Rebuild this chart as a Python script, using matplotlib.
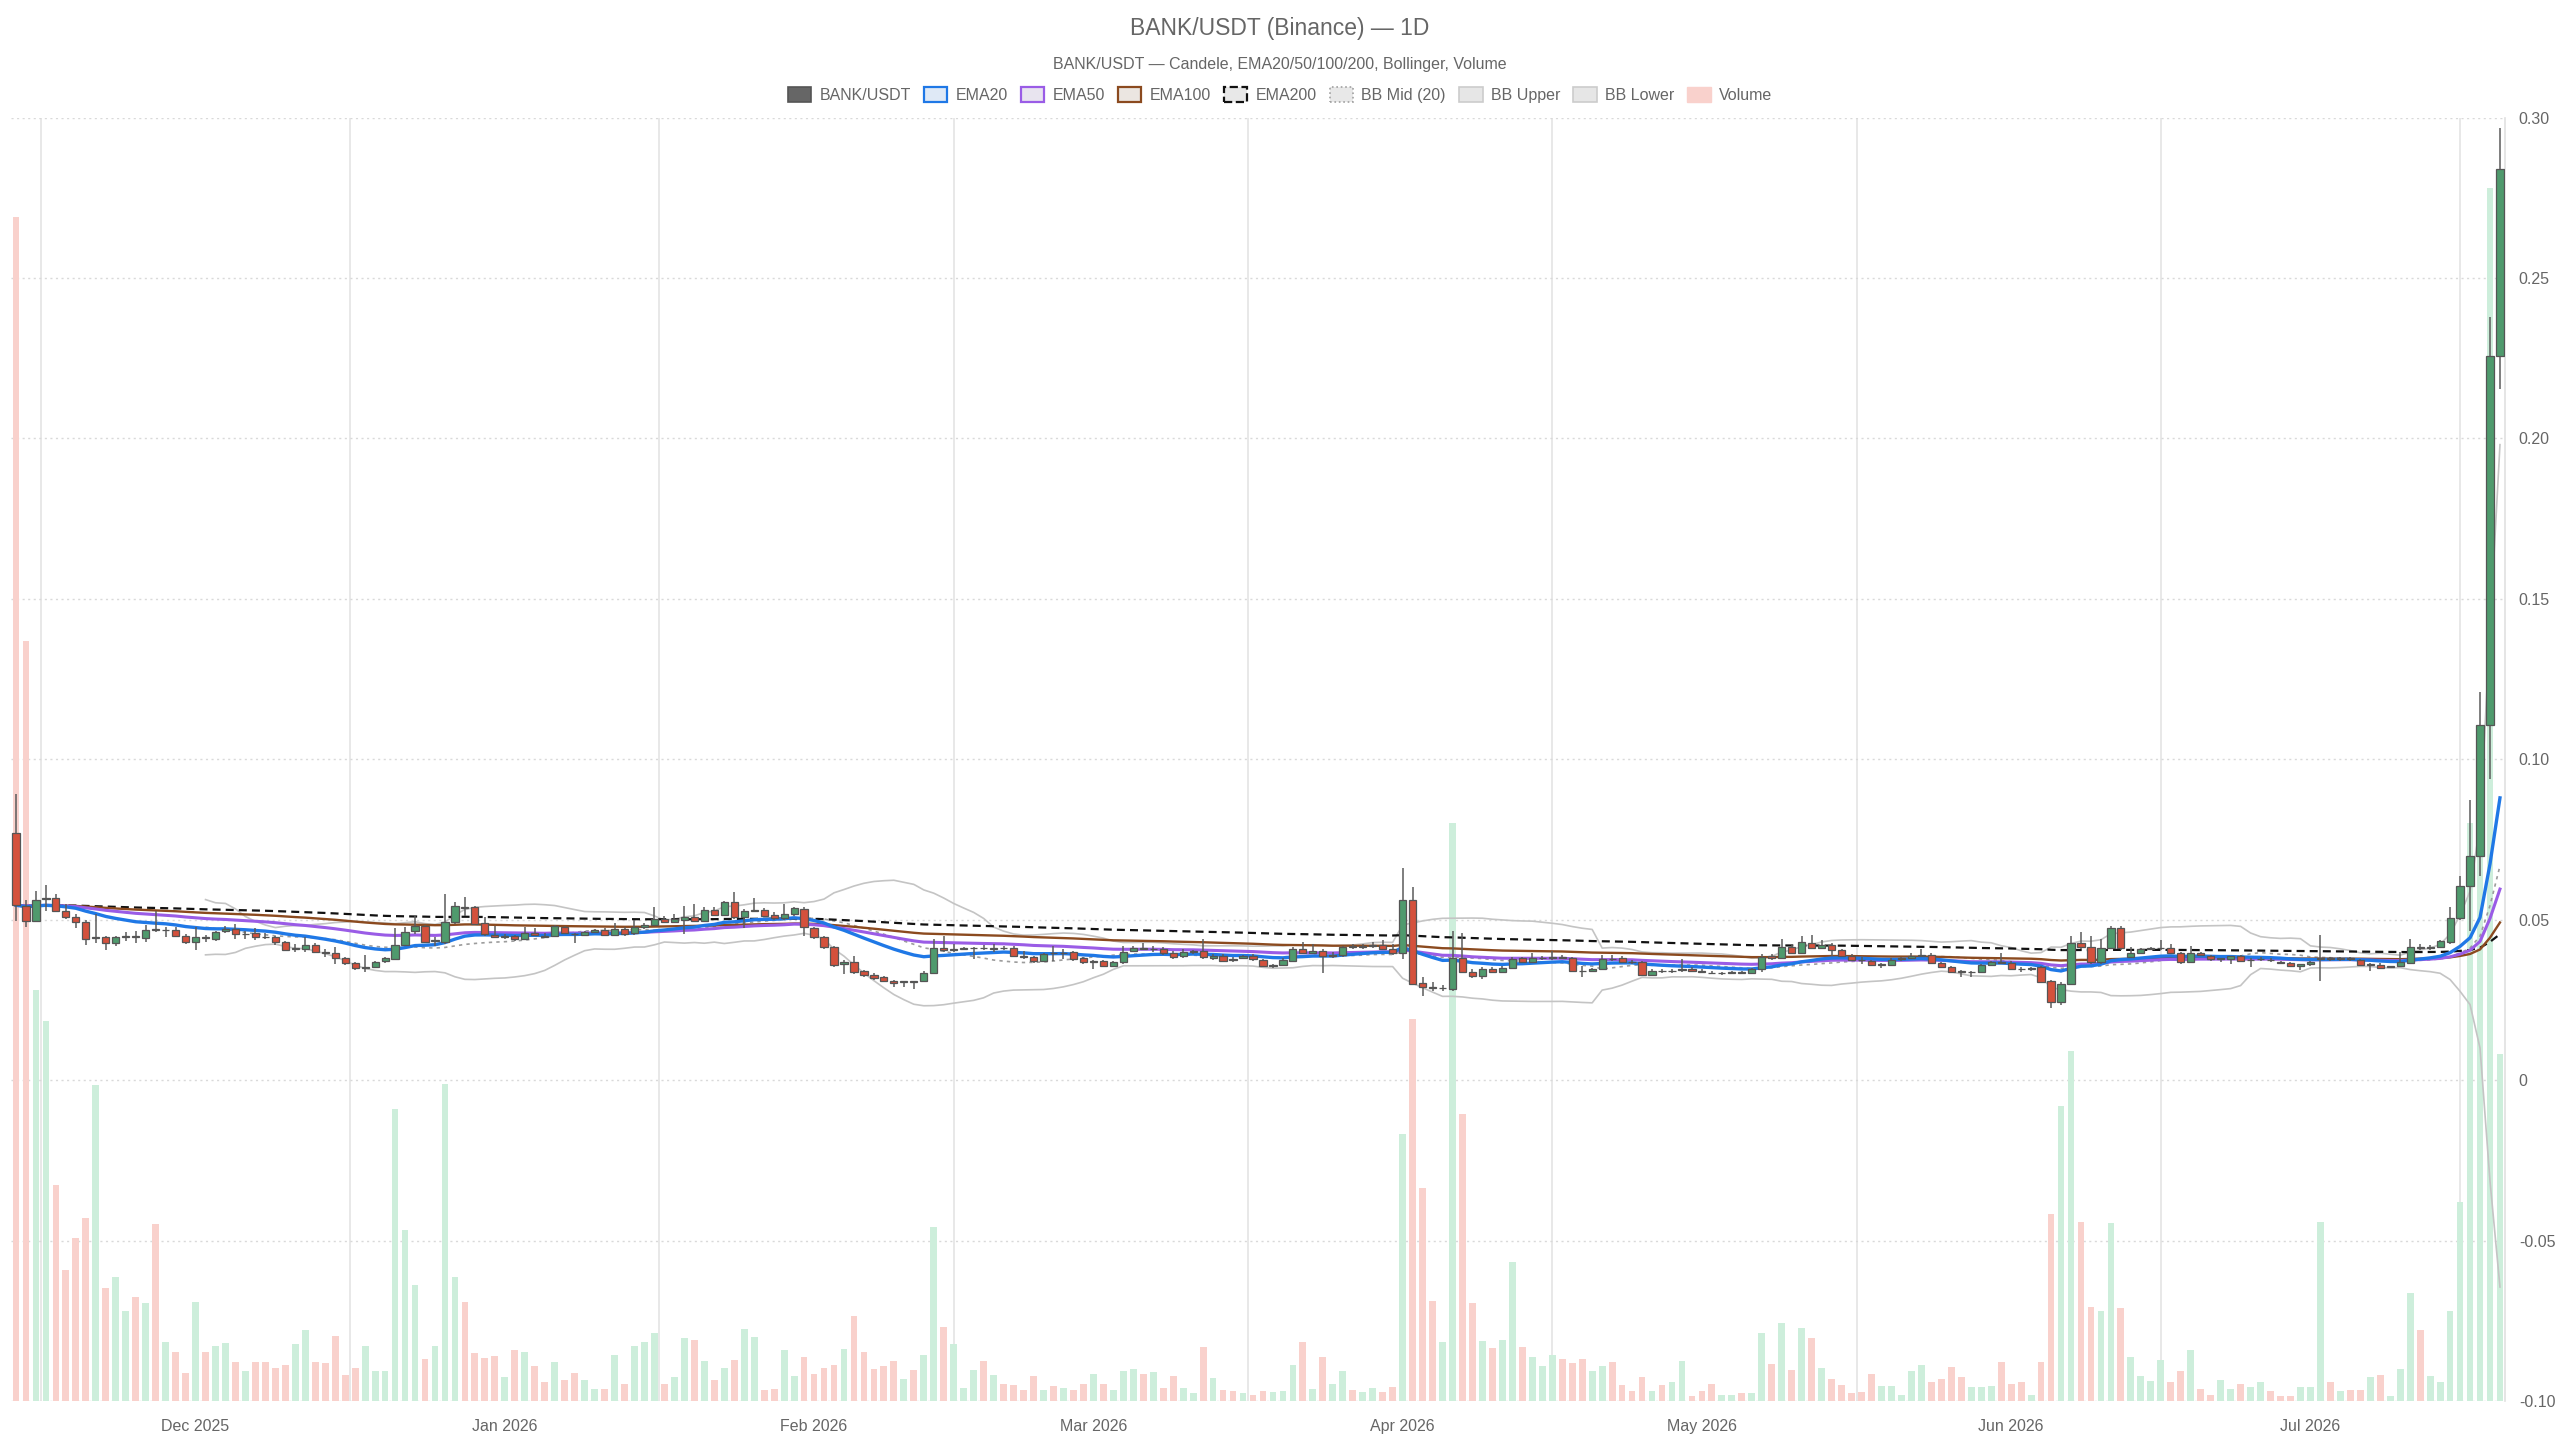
import numpy as np
import pandas as pd
import matplotlib
matplotlib.use("Agg")
import matplotlib.pyplot as plt
import matplotlib.dates as mdates
from matplotlib.patches import Patch
from matplotlib.ticker import FixedLocator, FuncFormatter

plt.rcParams['font.family'] = ['Liberation Sans', 'DejaVu Sans']

# daily candles BANK/USDT, first day 2025-11-13
start_date = '2025-11-13'

opens = [
    0.0770, 0.0544, 0.0497, 0.0563, 0.0568, 0.0526, 0.0507, 0.0494, 0.0443, 0.0445,
    0.0427, 0.0446, 0.0448, 0.0442, 0.0470, 0.0467, 0.0468, 0.0450, 0.0431, 0.0446,
    0.0440, 0.0466, 0.0471, 0.0454, 0.0457, 0.0447, 0.0445, 0.0429, 0.0409, 0.0409,
    0.0422, 0.0398, 0.0395, 0.0380, 0.0364, 0.0350, 0.0354, 0.0370, 0.0377, 0.0422,
    0.0464, 0.0479, 0.0433, 0.0429, 0.0492, 0.0540, 0.0538, 0.0490, 0.0453, 0.0447,
    0.0448, 0.0440, 0.0457, 0.0449, 0.0448, 0.0476, 0.0456, 0.0452, 0.0461, 0.0468,
    0.0452, 0.0471, 0.0457, 0.0478, 0.0484, 0.0502, 0.0494, 0.0500, 0.0509, 0.0497,
    0.0531, 0.0516, 0.0554, 0.0507, 0.0528, 0.0530, 0.0515, 0.0504, 0.0518, 0.0533,
    0.0474, 0.0445, 0.0414, 0.0362, 0.0369, 0.0339, 0.0329, 0.0320, 0.0310, 0.0305,
    0.0309, 0.0308, 0.0334, 0.0411, 0.0404, 0.0410, 0.0411, 0.0413, 0.0410, 0.0413,
    0.0411, 0.0388, 0.0383, 0.0370, 0.0396, 0.0395, 0.0398, 0.0380, 0.0369, 0.0370,
    0.0357, 0.0367, 0.0403, 0.0413, 0.0408, 0.0409, 0.0396, 0.0386, 0.0399, 0.0403,
    0.0381, 0.0388, 0.0377, 0.0380, 0.0388, 0.0374, 0.0356, 0.0359, 0.0372, 0.0409,
    0.0396, 0.0403, 0.0386, 0.0389, 0.0418, 0.0416, 0.0418, 0.0421, 0.0409, 0.0396,
    0.0562, 0.0302, 0.0290, 0.0286, 0.0284, 0.0381, 0.0338, 0.0324, 0.0346, 0.0338,
    0.0350, 0.0380, 0.0369, 0.0380, 0.0382, 0.0385, 0.0379, 0.0341, 0.0341, 0.0346,
    0.0378, 0.0381, 0.0369, 0.0367, 0.0329, 0.0340, 0.0339, 0.0342, 0.0346, 0.0341,
    0.0334, 0.0333, 0.0334, 0.0337, 0.0334, 0.0346, 0.0386, 0.0380, 0.0416, 0.0396,
    0.0426, 0.0412, 0.0422, 0.0406, 0.0388, 0.0375, 0.0370, 0.0359, 0.0360, 0.0377,
    0.0380, 0.0388, 0.0390, 0.0364, 0.0352, 0.0339, 0.0336, 0.0336, 0.0359, 0.0367,
    0.0364, 0.0347, 0.0345, 0.0351, 0.0308, 0.0243, 0.0300, 0.0426, 0.0416, 0.0367,
    0.0411, 0.0474, 0.0383, 0.0396, 0.0409, 0.0411, 0.0411, 0.0396, 0.0367, 0.0395,
    0.0388, 0.0377, 0.0378, 0.0386, 0.0374, 0.0377, 0.0375, 0.0368, 0.0365, 0.0355,
    0.0362, 0.0377, 0.0379, 0.0377, 0.0379, 0.0374, 0.0360, 0.0360, 0.0352, 0.0357,
    0.0365, 0.0414, 0.0411, 0.0415, 0.0430, 0.0505, 0.0604, 0.0697, 0.1106, 0.2257,
]

highs = [
    0.0893, 0.0560, 0.0588, 0.0609, 0.0580, 0.0549, 0.0518, 0.0500, 0.0518, 0.0450,
    0.0450, 0.0461, 0.0466, 0.0483, 0.0526, 0.0478, 0.0476, 0.0455, 0.0476, 0.0453,
    0.0466, 0.0479, 0.0487, 0.0464, 0.0473, 0.0458, 0.0450, 0.0433, 0.0424, 0.0445,
    0.0427, 0.0409, 0.0414, 0.0385, 0.0369, 0.0390, 0.0372, 0.0385, 0.0474, 0.0476,
    0.0512, 0.0483, 0.0447, 0.0580, 0.0554, 0.0571, 0.0544, 0.0507, 0.0479, 0.0455,
    0.0452, 0.0476, 0.0473, 0.0458, 0.0484, 0.0481, 0.0460, 0.0466, 0.0471, 0.0474,
    0.0490, 0.0476, 0.0500, 0.0490, 0.0538, 0.0512, 0.0518, 0.0544, 0.0549, 0.0538,
    0.0538, 0.0559, 0.0587, 0.0533, 0.0566, 0.0535, 0.0523, 0.0549, 0.0540, 0.0538,
    0.0478, 0.0450, 0.0419, 0.0374, 0.0388, 0.0344, 0.0334, 0.0324, 0.0313, 0.0310,
    0.0310, 0.0340, 0.0440, 0.0448, 0.0424, 0.0416, 0.0416, 0.0420, 0.0424, 0.0418,
    0.0419, 0.0403, 0.0388, 0.0396, 0.0419, 0.0409, 0.0403, 0.0385, 0.0374, 0.0374,
    0.0370, 0.0419, 0.0419, 0.0427, 0.0419, 0.0414, 0.0403, 0.0409, 0.0406, 0.0440,
    0.0393, 0.0393, 0.0385, 0.0391, 0.0392, 0.0378, 0.0362, 0.0380, 0.0414, 0.0431,
    0.0424, 0.0409, 0.0398, 0.0419, 0.0424, 0.0424, 0.0430, 0.0436, 0.0424, 0.0660,
    0.0601, 0.0322, 0.0305, 0.0295, 0.0466, 0.0459, 0.0346, 0.0352, 0.0352, 0.0355,
    0.0385, 0.0385, 0.0395, 0.0388, 0.0403, 0.0390, 0.0385, 0.0357, 0.0350, 0.0390,
    0.0391, 0.0386, 0.0374, 0.0372, 0.0346, 0.0345, 0.0345, 0.0378, 0.0352, 0.0346,
    0.0340, 0.0338, 0.0340, 0.0341, 0.0350, 0.0393, 0.0392, 0.0440, 0.0424, 0.0450,
    0.0452, 0.0437, 0.0426, 0.0409, 0.0392, 0.0385, 0.0374, 0.0365, 0.0380, 0.0385,
    0.0395, 0.0409, 0.0395, 0.0368, 0.0356, 0.0343, 0.0340, 0.0362, 0.0372, 0.0395,
    0.0370, 0.0352, 0.0352, 0.0357, 0.0312, 0.0305, 0.0448, 0.0461, 0.0448, 0.0440,
    0.0480, 0.0479, 0.0414, 0.0412, 0.0414, 0.0438, 0.0424, 0.0400, 0.0419, 0.0400,
    0.0391, 0.0382, 0.0388, 0.0390, 0.0380, 0.0383, 0.0381, 0.0372, 0.0369, 0.0362,
    0.0372, 0.0451, 0.0384, 0.0383, 0.0383, 0.0378, 0.0364, 0.0364, 0.0357, 0.0398,
    0.0440, 0.0424, 0.0420, 0.0438, 0.0540, 0.0635, 0.0873, 0.1211, 0.2377, 0.2968,
]

lows = [
    0.0497, 0.0476, 0.0494, 0.0528, 0.0523, 0.0502, 0.0474, 0.0421, 0.0426, 0.0407,
    0.0419, 0.0435, 0.0426, 0.0431, 0.0461, 0.0445, 0.0445, 0.0424, 0.0407, 0.0429,
    0.0435, 0.0458, 0.0440, 0.0440, 0.0438, 0.0440, 0.0421, 0.0403, 0.0398, 0.0400,
    0.0396, 0.0383, 0.0362, 0.0360, 0.0344, 0.0338, 0.0350, 0.0365, 0.0374, 0.0419,
    0.0455, 0.0426, 0.0419, 0.0424, 0.0487, 0.0512, 0.0484, 0.0450, 0.0445, 0.0440,
    0.0435, 0.0436, 0.0450, 0.0442, 0.0445, 0.0455, 0.0426, 0.0448, 0.0457, 0.0448,
    0.0448, 0.0450, 0.0453, 0.0472, 0.0480, 0.0490, 0.0490, 0.0455, 0.0494, 0.0494,
    0.0512, 0.0512, 0.0502, 0.0474, 0.0523, 0.0507, 0.0500, 0.0500, 0.0512, 0.0450,
    0.0440, 0.0409, 0.0352, 0.0331, 0.0331, 0.0322, 0.0313, 0.0305, 0.0289, 0.0289,
    0.0284, 0.0305, 0.0331, 0.0400, 0.0398, 0.0405, 0.0377, 0.0405, 0.0398, 0.0405,
    0.0385, 0.0378, 0.0365, 0.0367, 0.0372, 0.0378, 0.0372, 0.0362, 0.0346, 0.0352,
    0.0352, 0.0362, 0.0398, 0.0405, 0.0398, 0.0390, 0.0378, 0.0381, 0.0393, 0.0378,
    0.0375, 0.0367, 0.0367, 0.0376, 0.0372, 0.0352, 0.0350, 0.0355, 0.0367, 0.0393,
    0.0393, 0.0334, 0.0380, 0.0385, 0.0409, 0.0409, 0.0412, 0.0405, 0.0390, 0.0378,
    0.0296, 0.0263, 0.0279, 0.0279, 0.0279, 0.0334, 0.0318, 0.0315, 0.0334, 0.0334,
    0.0346, 0.0365, 0.0365, 0.0375, 0.0374, 0.0376, 0.0336, 0.0322, 0.0336, 0.0344,
    0.0370, 0.0365, 0.0362, 0.0326, 0.0325, 0.0335, 0.0334, 0.0338, 0.0336, 0.0334,
    0.0330, 0.0329, 0.0330, 0.0330, 0.0331, 0.0338, 0.0374, 0.0378, 0.0393, 0.0393,
    0.0409, 0.0409, 0.0386, 0.0383, 0.0370, 0.0362, 0.0355, 0.0350, 0.0357, 0.0372,
    0.0376, 0.0384, 0.0361, 0.0348, 0.0333, 0.0322, 0.0320, 0.0333, 0.0355, 0.0362,
    0.0342, 0.0336, 0.0340, 0.0302, 0.0224, 0.0233, 0.0296, 0.0410, 0.0362, 0.0362,
    0.0409, 0.0405, 0.0380, 0.0392, 0.0405, 0.0406, 0.0393, 0.0362, 0.0364, 0.0386,
    0.0372, 0.0367, 0.0362, 0.0367, 0.0352, 0.0372, 0.0369, 0.0362, 0.0352, 0.0344,
    0.0357, 0.0309, 0.0370, 0.0372, 0.0372, 0.0355, 0.0339, 0.0346, 0.0348, 0.0354,
    0.0362, 0.0405, 0.0406, 0.0412, 0.0425, 0.0498, 0.0464, 0.0637, 0.0938, 0.2153,
]

closes = [
    0.0545, 0.0497, 0.0562, 0.0567, 0.0528, 0.0509, 0.0494, 0.0440, 0.0446, 0.0427,
    0.0445, 0.0448, 0.0446, 0.0469, 0.0468, 0.0469, 0.0450, 0.0431, 0.0445, 0.0444,
    0.0463, 0.0471, 0.0455, 0.0456, 0.0445, 0.0445, 0.0429, 0.0407, 0.0411, 0.0422,
    0.0398, 0.0395, 0.0381, 0.0364, 0.0348, 0.0352, 0.0369, 0.0381, 0.0422, 0.0463,
    0.0479, 0.0431, 0.0436, 0.0492, 0.0542, 0.0537, 0.0487, 0.0455, 0.0447, 0.0448,
    0.0440, 0.0457, 0.0452, 0.0447, 0.0479, 0.0458, 0.0454, 0.0461, 0.0468, 0.0452,
    0.0471, 0.0455, 0.0478, 0.0484, 0.0502, 0.0494, 0.0502, 0.0509, 0.0497, 0.0531,
    0.0516, 0.0554, 0.0507, 0.0528, 0.0531, 0.0512, 0.0504, 0.0518, 0.0535, 0.0476,
    0.0445, 0.0414, 0.0359, 0.0369, 0.0338, 0.0328, 0.0318, 0.0310, 0.0303, 0.0308,
    0.0307, 0.0334, 0.0411, 0.0404, 0.0410, 0.0412, 0.0413, 0.0411, 0.0413, 0.0411,
    0.0388, 0.0383, 0.0370, 0.0393, 0.0395, 0.0397, 0.0377, 0.0367, 0.0372, 0.0357,
    0.0367, 0.0400, 0.0411, 0.0408, 0.0410, 0.0396, 0.0383, 0.0400, 0.0401, 0.0383,
    0.0388, 0.0372, 0.0375, 0.0388, 0.0377, 0.0357, 0.0358, 0.0374, 0.0409, 0.0396,
    0.0403, 0.0386, 0.0389, 0.0416, 0.0416, 0.0418, 0.0420, 0.0409, 0.0396, 0.0562,
    0.0300, 0.0291, 0.0288, 0.0287, 0.0381, 0.0338, 0.0324, 0.0346, 0.0338, 0.0350,
    0.0377, 0.0369, 0.0380, 0.0381, 0.0385, 0.0380, 0.0341, 0.0340, 0.0346, 0.0378,
    0.0377, 0.0369, 0.0367, 0.0329, 0.0341, 0.0339, 0.0341, 0.0345, 0.0341, 0.0336,
    0.0333, 0.0335, 0.0336, 0.0334, 0.0346, 0.0385, 0.0380, 0.0416, 0.0396, 0.0429,
    0.0412, 0.0422, 0.0407, 0.0388, 0.0374, 0.0373, 0.0360, 0.0361, 0.0374, 0.0379,
    0.0388, 0.0390, 0.0365, 0.0352, 0.0338, 0.0337, 0.0337, 0.0359, 0.0367, 0.0366,
    0.0346, 0.0345, 0.0348, 0.0307, 0.0243, 0.0300, 0.0426, 0.0416, 0.0367, 0.0411,
    0.0474, 0.0411, 0.0395, 0.0409, 0.0411, 0.0413, 0.0396, 0.0367, 0.0395, 0.0390,
    0.0377, 0.0379, 0.0386, 0.0372, 0.0375, 0.0378, 0.0373, 0.0366, 0.0355, 0.0362,
    0.0369, 0.0379, 0.0377, 0.0379, 0.0377, 0.0360, 0.0362, 0.0349, 0.0355, 0.0367,
    0.0414, 0.0412, 0.0415, 0.0434, 0.0504, 0.0604, 0.0697, 0.1106, 0.2257, 0.2839,
]

# volume, millions of BANK (hidden axis)
volumes = [
    369.0, 237.0, 128.1, 118.3, 67.2, 40.8, 50.8, 57.0, 98.4, 35.2,
    38.6, 28.1, 32.4, 30.4, 55.0, 18.3, 15.4, 8.8, 30.7, 15.4,
    17.1, 18.1, 12.0, 9.2, 12.2, 12.2, 10.3, 11.3, 17.7, 22.2,
    12.2, 11.9, 20.2, 8.1, 10.2, 17.1, 9.2, 9.2, 91.1, 53.3,
    36.3, 13.2, 17.1, 98.9, 38.6, 30.7, 15.1, 13.4, 13.9, 7.4,
    16.0, 15.4, 10.8, 6.0, 12.0, 6.4, 8.6, 6.4, 3.7, 3.7,
    14.2, 5.4, 17.0, 18.3, 21.3, 5.4, 7.4, 19.6, 19.1, 12.5,
    6.6, 10.3, 12.8, 22.5, 20.0, 3.5, 3.7, 16.0, 7.9, 13.7,
    8.5, 10.3, 11.3, 16.2, 26.4, 15.4, 10.0, 10.9, 12.6, 6.9,
    9.6, 14.2, 54.2, 23.2, 17.9, 4.1, 9.8, 12.6, 8.1, 5.4,
    4.9, 3.5, 7.9, 3.5, 4.6, 4.1, 3.5, 5.4, 8.3, 5.4,
    3.5, 9.2, 10.0, 8.3, 9.1, 4.0, 7.9, 4.1, 2.4, 16.8,
    7.1, 3.5, 3.2, 2.6, 2.0, 3.2, 2.8, 3.2, 11.3, 18.5,
    3.7, 13.7, 5.4, 9.4, 3.4, 2.8, 4.1, 2.8, 4.5, 83.1,
    119.2, 66.3, 31.2, 18.3, 180.0, 89.4, 30.4, 18.8, 16.4, 19.1,
    43.2, 16.8, 13.7, 10.9, 14.3, 13.0, 11.7, 13.2, 9.4, 10.9,
    12.2, 4.9, 3.2, 7.4, 3.2, 5.1, 6.0, 12.6, 1.7, 3.2,
    5.2, 2.0, 2.0, 2.4, 2.6, 21.1, 11.5, 24.2, 9.6, 22.8,
    19.6, 10.3, 6.9, 4.9, 2.4, 2.9, 8.5, 4.6, 4.6, 2.0,
    9.4, 11.1, 5.8, 6.9, 10.5, 7.5, 4.3, 4.3, 4.6, 12.2,
    5.2, 6.0, 2.0, 12.2, 58.2, 91.9, 109.0, 55.7, 29.3, 28.1,
    55.6, 29.0, 13.7, 7.9, 6.2, 12.8, 6.0, 9.2, 16.0, 3.7,
    1.8, 6.4, 3.7, 5.4, 4.3, 6.0, 3.2, 1.5, 1.5, 4.3,
    4.3, 55.7, 6.0, 3.2, 3.5, 3.5, 7.5, 8.1, 1.7, 10.0,
    33.5, 22.2, 7.7, 6.0, 27.9, 61.9, 180.0, 200.0, 378.0, 108.0,
]

dates = pd.date_range(start_date, periods=len(closes), freq='D')
df = pd.DataFrame({'open': opens, 'high': highs, 'low': lows,
                   'close': closes, 'volume': volumes}, index=dates)

# indicators
for n in (20, 50, 100, 200):
    df[f'ema{n}'] = df['close'].ewm(span=n, adjust=False).mean()
df['bb_mid'] = df['close'].rolling(20).mean()
bb_std = df['close'].rolling(20).std(ddof=0)
df['bb_up'] = df['bb_mid'] + 2 * bb_std
df['bb_low'] = df['bb_mid'] - 2 * bb_std

x = mdates.date2num(df.index.to_pydatetime())
rising = (df['close'] >= df['open']).values

GREEN = '#4f9a6d'
RED = '#d4513c'
TEXT = '#666666'

fig = plt.figure(figsize=(25.6, 14.4), dpi=100)
fig.patch.set_facecolor('white')
ax_vol = fig.add_axes([0.0043, 0.0271, 0.9742, 0.8913])
ax = ax_vol.twinx()

# volume behind everything
vol_colors = np.where(rising, '#cdeedb', '#f9d1cc')
ax_vol.bar(x, df['volume'], width=0.68, color=vol_colors, zorder=1)
ax_vol.set_ylim(0, 400)

# grid lives on the volume axes (same pixel span as price axis)
ax_vol.set_yticks(np.arange(0, 401, 50))
ax_vol.yaxis.set_tick_params(length=0, labelleft=False, labelright=False)
ax_vol.grid(axis='y', color='#d9d9d9', linestyle=(0, (1.5, 2.5)), linewidth=1.0, zorder=0)
ax_vol.set_axisbelow(True)

month_ticks = pd.date_range('2025-12-01', '2026-07-01', freq='MS')
mt = mdates.date2num(month_ticks.to_pydatetime())
mids = list((mt[:-1] + mt[1:]) / 2)
grid_x = [mt[0] - (mt[1] - mt[0]) / 2] + mids + [mt[-1] + (mt[-1] - mt[-2]) / 2]
ax_vol.set_xticks(mt)
ax_vol.set_xticklabels([d.strftime('%b %Y') for d in month_ticks])
ax_vol.xaxis.set_minor_locator(FixedLocator(grid_x))
ax_vol.grid(axis='x', which='minor', color='#e4e4e4', linewidth=1.2, zorder=0)
ax_vol.tick_params(axis='x', which='both', length=0, labelsize=11.5,
                   labelcolor=TEXT, pad=13)
ax_vol.set_xlim(x[0] - 0.5, x[-1] + 0.5)

# bollinger + emas
ax.plot(x, df['bb_up'], color='#c4c4c4', lw=1.2, zorder=2)
ax.plot(x, df['bb_low'], color='#c4c4c4', lw=1.2, zorder=2)
ax.plot(x, df['bb_mid'], color='#9c9c9c', lw=1.2, ls=(0, (2, 2.5)), zorder=2)
ax.plot(x, df['ema200'], color='#111111', lw=1.6, ls=(0, (3.6, 2.3)), zorder=2.2)
ax.plot(x, df['ema100'], color='#8b4a1f', lw=1.7, zorder=2.3)
ax.plot(x, df['ema50'], color='#9a5ce6', lw=2.2, zorder=2.4)
ax.plot(x, df['ema20'], color='#1f78e6', lw=2.4, zorder=2.5)

# candles
o = df['open'].values
c = df['close'].values
ax.vlines(x, df['low'], df['high'], color='#5b5b5b', lw=1.1, zorder=3)
body_low = np.minimum(o, c)
body_h = np.maximum(np.abs(c - o), 0.00005)
ax.bar(x, body_h, width=0.72, bottom=body_low,
       color=np.where(rising, GREEN, RED), edgecolor='#555555',
       linewidth=0.9, zorder=4)

ax.set_ylim(-0.10, 0.30)
ax.set_yticks(np.arange(-0.10, 0.3001, 0.05))
ax.yaxis.set_major_formatter(FuncFormatter(lambda v, p: '0' if abs(v) < 1e-9 else f'{v:.2f}'))
ax.tick_params(axis='y', length=0, labelsize=11.5, labelcolor=TEXT, pad=10)
ax.set_xlim(x[0] - 0.5, x[-1] + 0.5)

for a in (ax, ax_vol):
    for s in a.spines.values():
        s.set_visible(False)
ax.spines['right'].set_visible(True)
ax.spines['right'].set_color('#e0e0e0')
ax.spines['right'].set_linewidth(1.2)

fig.text(0.5, 1 - 28 / 1440, 'BANK/USDT (Binance) — 1D', ha='center', va='center',
         fontsize=16.5, color=TEXT)
fig.text(0.5, 1 - 64 / 1440, 'BANK/USDT — Candele, EMA20/50/100/200, Bollinger, Volume',
         ha='center', va='center', fontsize=11.5, color=TEXT)

handles = [
    Patch(facecolor='#666666', edgecolor='#555555', linewidth=1.2),
    Patch(facecolor='#dfe9f6', edgecolor='#1f78e6', linewidth=1.6),
    Patch(facecolor='#e8e4ef', edgecolor='#9a5ce6', linewidth=1.6),
    Patch(facecolor='#ebe6e1', edgecolor='#8b4a1f', linewidth=1.6),
    Patch(facecolor='#e8e8e8', edgecolor='#111111', linewidth=1.6, linestyle='--'),
    Patch(facecolor='#e8e8e8', edgecolor='#a0a0a0', linewidth=1.2, linestyle=':'),
    Patch(facecolor='#e6e6e6', edgecolor='#cccccc', linewidth=1.2),
    Patch(facecolor='#e6e6e6', edgecolor='#cccccc', linewidth=1.2),
    Patch(facecolor='#f9d1cc', edgecolor='#f9d1cc', linewidth=1.0),
]
labels = ['BANK/USDT', 'EMA20', 'EMA50', 'EMA100', 'EMA200',
          'BB Mid (20)', 'BB Upper', 'BB Lower', 'Volume']
fig.legend(handles, labels, loc='center', bbox_to_anchor=(0.5, 1 - 95 / 1440),
           ncol=9, frameon=False, fontsize=11.5, labelcolor=TEXT,
           handlelength=1.45, handleheight=1.1, handletextpad=0.5,
           columnspacing=0.85)

fig.savefig('out.png', dpi=100, facecolor='white')
